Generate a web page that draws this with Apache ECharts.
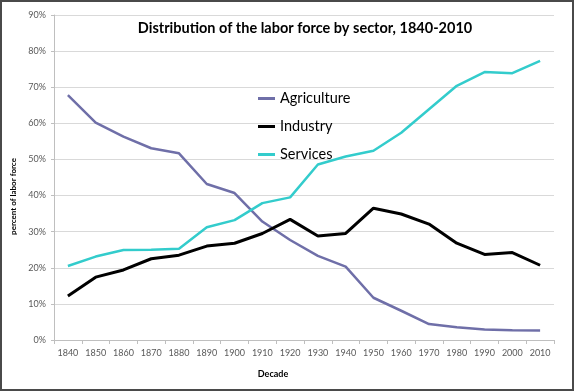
<!DOCTYPE html>
<html><head><meta charset="utf-8">
<script src="https://cdn.jsdelivr.net/npm/echarts@6/dist/echarts.min.js"></script>
<style>html,body{margin:0;padding:0;background:#fff}#c{width:574px;height:391px}</style>
</head><body><div id="c"></div>
<script>
const decades = ['1840','1850','1860','1870','1880','1890','1900','1910','1920','1930','1940','1950','1960','1970','1980','1990','2000','2010'];
const agriculture = [67.8,60.2,56.3,53.1,51.7,43.2,40.7,32.8,27.7,23.3,20.3,11.7,8.1,4.4,3.5,2.9,2.7,2.6];
const industry = [12.2,17.4,19.4,22.5,23.5,26.0,26.8,29.5,33.4,28.8,29.5,36.5,34.9,32.1,26.8,23.7,24.2,20.7];
const services = [20.5,23.1,24.9,25.0,25.3,31.2,33.2,37.9,39.5,48.6,50.8,52.4,57.4,63.9,70.4,74.2,73.9,77.3];
const yTicks = [0,10,20,30,40,50,60,70,80,90];

const chart = echarts.init(document.getElementById('c'), null, {renderer:'canvas'});
const font = 'Lato, "Open Sans", sans-serif';
chart.setOption({
  animation:false,
  backgroundColor:'#fff',
  title:{text:'Distribution of the labor force by sector, 1840-2010', left:300, top:16, textAlign:'center',
    textStyle:{fontFamily:font, fontSize:14.5, fontWeight:'bold', color:'#000'}},
  legend:{orient:'vertical', left:258, top:91, padding:0, itemGap:13, itemWidth:17, itemHeight:3, icon:'rect',
    textStyle:{fontFamily:font, fontSize:14.5, color:'#000'},
    data:['Agriculture','Industry','Services']},
  grid:{left:54, right:20, top:15, bottom:51},
  xAxis:{type:'category', data:decades, boundaryGap:true,
    name:'Decade', nameLocation:'middle', nameGap:30,
    nameTextStyle:{fontFamily:font, fontSize:9, fontWeight:'bold', color:'#000', padding:[0,62,0,0]},
    axisLine:{lineStyle:{color:'#bfbfbf'}},
    axisTick:{show:true, length:4, lineStyle:{color:'#bfbfbf'}},
    axisLabel:{fontFamily:font, fontSize:9, color:'#595959', margin:9}},
  yAxis:{type:'value', min:yTicks[0], max:yTicks[yTicks.length-1], interval:10,
    name:'percent of labor force', nameLocation:'middle', nameGap:34,
    nameTextStyle:{fontFamily:font, fontSize:8, fontWeight:'bold', color:'#000', padding:[0,38,0,0]},
    axisLine:{show:true, lineStyle:{color:'#bfbfbf'}},
    axisTick:{show:true, length:3, lineStyle:{color:'#bfbfbf'}},
    splitLine:{lineStyle:{color:'#d9d9d9', width:1}},
    axisLabel:{fontFamily:font, fontSize:9, color:'#595959', margin:8, formatter:'{value}%'}},
  series:[
    {name:'Agriculture', type:'line', data:agriculture, showSymbol:false, symbol:'none', color:'#6f6fa8', lineStyle:{width:2.5, color:'#6f6fa8'}},
    {name:'Industry', type:'line', data:industry, showSymbol:false, symbol:'none', color:'#000', lineStyle:{width:3, color:'#000'}},
    {name:'Services', type:'line', data:services, showSymbol:false, symbol:'none', color:'#33cccc', lineStyle:{width:2.5, color:'#33cccc'}}
  ],
  graphic:[{type:'rect', shape:{x:1, y:1, width:572, height:389}, style:{fill:'none', stroke:'#4a4a4a', lineWidth:2}, silent:true}]
});
</script></body></html>
